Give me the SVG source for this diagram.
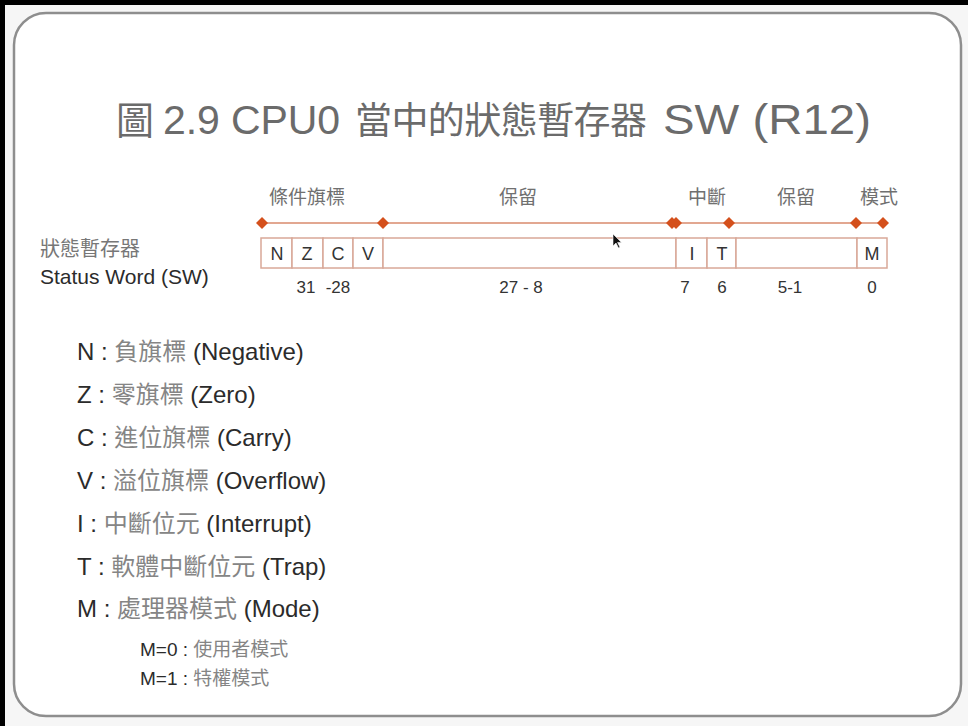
<svg xmlns="http://www.w3.org/2000/svg" width="968" height="726" viewBox="0 0 968 726">
  <defs>
    <style>
      .cjk { font-family: "Noto Sans CJK TC", "Liberation Sans", sans-serif; }
      .lat { font-family: "Liberation Sans", "Noto Sans CJK TC", sans-serif; }
      .title { fill: #6b6b6b; }
      .grp { font-size: 19px; fill: #707070; }
      .cell { fill: #ffffff; stroke: #d9a898; stroke-width: 1.5; }
      .bit { font-size: 18px; fill: #333333; text-anchor: middle; }
      .num { font-size: 17px; fill: #333333; text-anchor: middle; }
      .leg { font-size: 24px; fill: #2b2b2b; }
      .legc { fill: #858585; }
      .sub { font-size: 19px; fill: #2b2b2b; }
      .dia { fill: #d4501c; }
    </style>
    <path id="diamond" d="M0,-6 L6,0 L0,6 L-6,0 Z"/>
  </defs>

  <!-- page and slide frame -->
  <rect x="0" y="0" width="968" height="726" fill="#f6f6f6"/>
  <rect x="0" y="0" width="968" height="5" fill="#000000"/>
  <rect x="0" y="0" width="5" height="726" fill="#000000"/>
  <rect x="14" y="13" width="947" height="703" rx="32" ry="32" fill="#ffffff" stroke="#8e8e8e" stroke-width="2.5"/>

  <!-- title -->
  <g id="title" class="title">
    <text class="cjk" x="116" y="134" font-size="38">圖</text>
    <text class="lat" x="163" y="134" font-size="41" textLength="177" lengthAdjust="spacing">2.9 CPU0</text>
    <text class="cjk" x="355" y="134" font-size="37" textLength="292" lengthAdjust="spacing">當中的狀態暫存器</text>
    <text class="lat" x="663" y="134" font-size="42" textLength="208" lengthAdjust="spacingAndGlyphs">SW (R12)</text>
  </g>

  <!-- field group labels -->
  <g id="field-labels" class="cjk grp" text-anchor="middle">
    <text x="307" y="204">條件旗標</text>
    <text x="518" y="204">保留</text>
    <text x="707" y="204">中斷</text>
    <text x="796" y="204">保留</text>
    <text x="879" y="204">模式</text>
  </g>

  <!-- span line with field boundary markers -->
  <g id="connectors">
    <line x1="262" y1="223" x2="883" y2="223" stroke="#d98a6c" stroke-width="1.6"/>
    <use href="#diamond" x="262" y="223" class="dia"/>
    <use href="#diamond" x="383" y="223" class="dia"/>
    <use href="#diamond" x="672" y="223" class="dia"/>
    <use href="#diamond" x="676" y="223" class="dia"/>
    <use href="#diamond" x="729" y="223" class="dia"/>
    <use href="#diamond" x="856" y="223" class="dia"/>
    <use href="#diamond" x="883" y="223" class="dia"/>
  </g>

  <!-- register name -->
  <g id="register-name">
    <text class="cjk" x="40" y="256" font-size="20" fill="#777777">狀態暫存器</text>
    <text class="lat" x="40" y="284" font-size="21" fill="#2b2b2b">Status Word (SW)</text>
  </g>

  <!-- register cells -->
  <g id="register">
    <g id="cell-N"><rect class="cell" x="261" y="238" width="31" height="30"/><text class="lat bit" x="277" y="260">N</text></g>
    <g id="cell-Z"><rect class="cell" x="292" y="238" width="31" height="30"/><text class="lat bit" x="307" y="260">Z</text></g>
    <g id="cell-C"><rect class="cell" x="323" y="238" width="30" height="30"/><text class="lat bit" x="338" y="260">C</text></g>
    <g id="cell-V"><rect class="cell" x="353" y="238" width="30" height="30"/><text class="lat bit" x="368" y="260">V</text></g>
    <g id="cell-reserved-high"><rect class="cell" x="383" y="238" width="293" height="30"/></g>
    <g id="cell-I"><rect class="cell" x="676" y="238" width="31" height="30"/><text class="lat bit" x="692" y="260">I</text></g>
    <g id="cell-T"><rect class="cell" x="707" y="238" width="29" height="30"/><text class="lat bit" x="722" y="260">T</text></g>
    <g id="cell-reserved-low"><rect class="cell" x="736" y="238" width="121" height="30"/></g>
    <g id="cell-M"><rect class="cell" x="857" y="238" width="30" height="30"/><text class="lat bit" x="872" y="260">M</text></g>
  </g>

  <!-- bit numbers -->
  <g id="bit-numbers" class="lat num">
    <text x="306" y="293">31</text>
    <text x="338" y="293">-28</text>
    <text x="521" y="293">27 - 8</text>
    <text x="685" y="293">7</text>
    <text x="722" y="293">6</text>
    <text x="790" y="293">5-1</text>
    <text x="872" y="293">0</text>
  </g>

  <!-- mouse pointer -->
  <path d="M613,234 L613,246 L616,243 L618.5,248 L620,247.3 L617.6,242.4 L621.5,242.4 Z" fill="#111111" stroke="#ffffff" stroke-width="0.6"/>

  <!-- legend -->
  <g id="legend" class="lat leg">
    <text x="77" y="360">N : <tspan class="cjk legc">負旗標</tspan> (Negative)</text>
    <text x="77" y="403">Z : <tspan class="cjk legc">零旗標</tspan> (Zero)</text>
    <text x="77" y="446">C : <tspan class="cjk legc">進位旗標</tspan> (Carry)</text>
    <text x="77" y="489">V : <tspan class="cjk legc">溢位旗標</tspan> (Overflow)</text>
    <text x="77" y="532">I : <tspan class="cjk legc">中斷位元</tspan> (Interrupt)</text>
    <text x="77" y="575">T : <tspan class="cjk legc">軟體中斷位元</tspan> (Trap)</text>
    <text x="77" y="617">M : <tspan class="cjk legc">處理器模式</tspan> (Mode)</text>
  </g>
  <g id="mode-values" class="lat sub">
    <text x="140" y="656">M=0 : <tspan class="cjk legc">使用者模式</tspan></text>
    <text x="140" y="685">M=1 : <tspan class="cjk legc">特權模式</tspan></text>
  </g>
</svg>
